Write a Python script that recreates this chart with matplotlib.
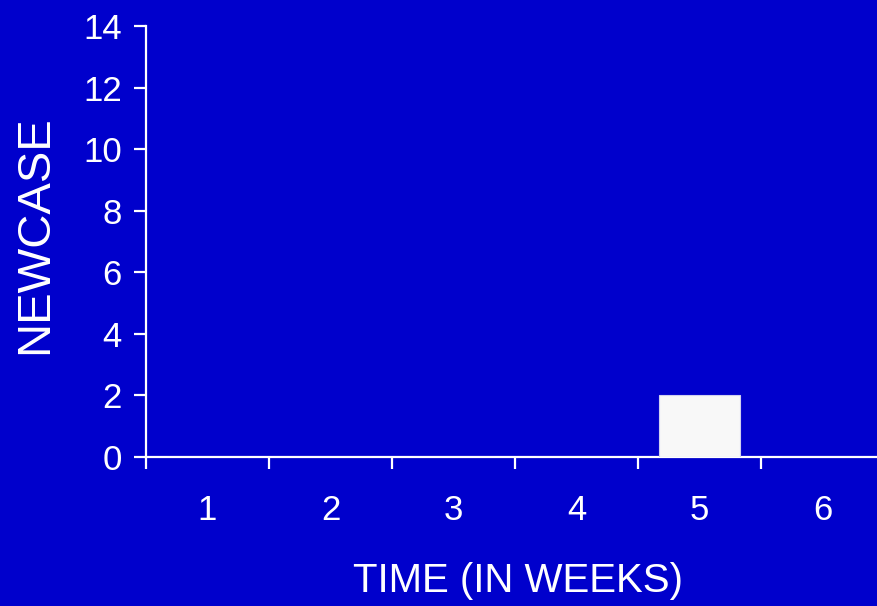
import matplotlib
matplotlib.use("Agg")
import matplotlib.pyplot as plt
from matplotlib.ticker import FixedLocator

weeks = ["1", "2", "3", "4", "5", "6"]
new_cases = [0, 0, 0, 0, 2, 0]
y_ticks = [0, 2, 4, 6, 8, 10, 12, 14]

bg = "#0000CC"
fg = "white"
font = "Liberation Sans"

fig = plt.figure(figsize=(8.78, 6.06), dpi=100, facecolor=bg)
ax = fig.add_axes([146 / 878, 149 / 606, 1 - 146 / 878, 431 / 606])
ax.set_facecolor(bg)

# one bar per week, centred on the category
x = list(range(len(weeks)))
ax.bar(x, new_cases, width=0.66, color="#F8F8F8", edgecolor="#D0D0F0", linewidth=0.8, zorder=3)

ax.set_xlim(-0.5, 5.45)
ax.set_ylim(0, 14)

for s in ["top", "right"]:
    ax.spines[s].set_visible(False)
for s in ["left", "bottom"]:
    ax.spines[s].set_color(fg)
    ax.spines[s].set_linewidth(1.6)

ax.set_yticks(y_ticks)
ax.set_yticklabels([str(v) for v in y_ticks], fontfamily=font, fontsize=25, color=fg)
ax.tick_params(axis="y", colors=fg, length=8.5, width=1.6, pad=9)

# labels in the middle of each week, tick marks between weeks
ax.set_xticks(x)
ax.set_xticklabels(weeks, fontfamily=font, fontsize=25, color=fg)
ax.xaxis.set_minor_locator(FixedLocator([i - 0.5 for i in range(len(weeks) + 1)]))
ax.tick_params(axis="x", which="major", length=0, pad=27, colors=fg)
ax.tick_params(axis="x", which="minor", length=8.5, width=1.6, colors=fg)

fig.text(518 / 878, 1 - 581 / 606, "TIME (IN WEEKS)", color=fg, fontsize=29,
         fontfamily=font, ha="center", va="center")
fig.text(35 / 878, 1 - 235 / 606, "NEWCASE", color=fg, fontsize=34,
         fontfamily=font, rotation=90, ha="center", va="center")

fig.savefig("out.png", dpi=100, facecolor=bg)
